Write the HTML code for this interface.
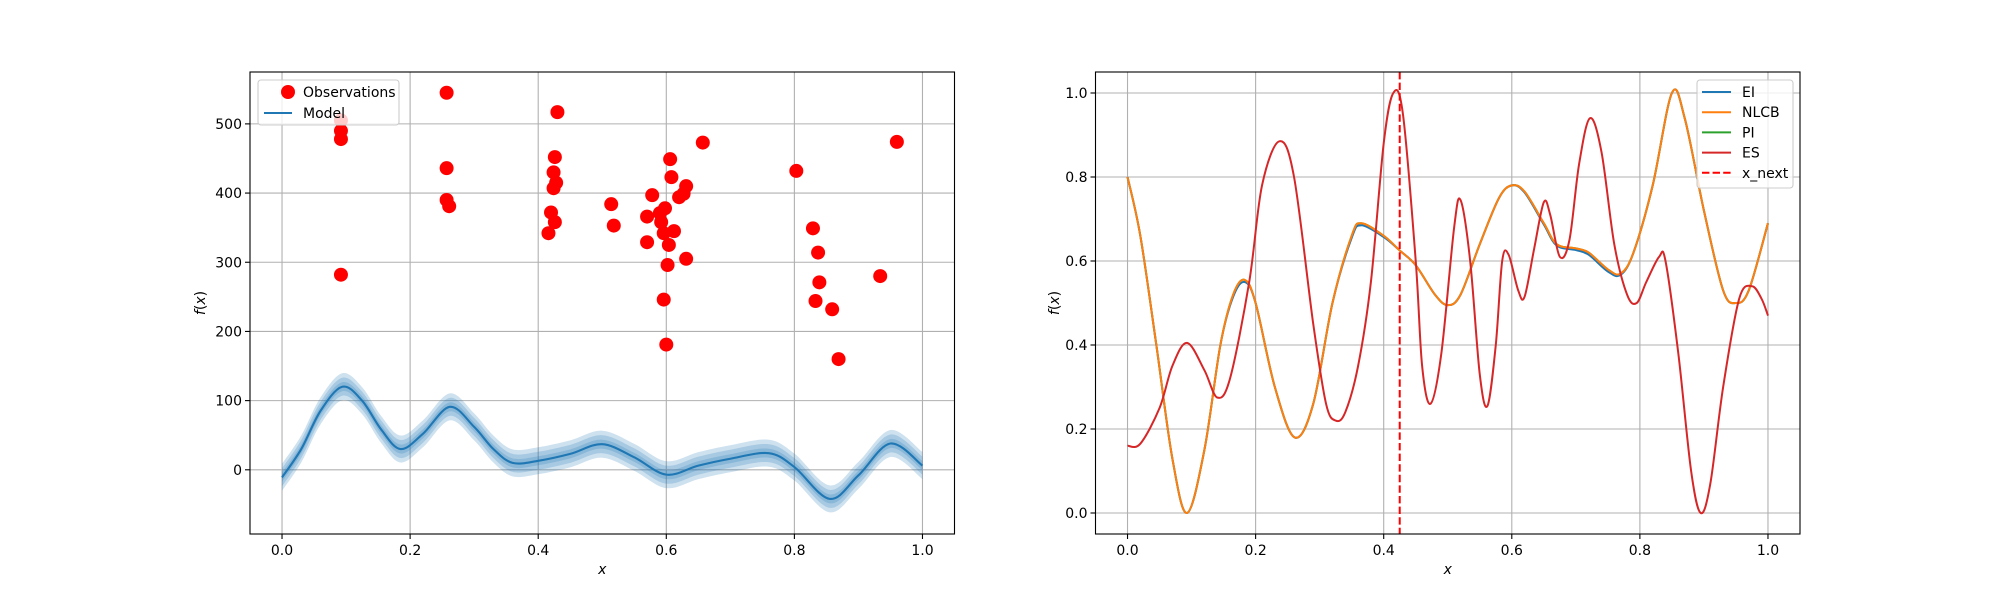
<!DOCTYPE html>
<html><head><meta charset="utf-8"><style>
html,body{margin:0;padding:0;background:#fff;}
svg{display:block;font-family:"DejaVu Sans","Liberation Sans",sans-serif;}
</style></head><body>
<svg id="fig" width="2000" height="600" viewBox="0 0 2000 600" xmlns="http://www.w3.org/2000/svg">
<rect width="2000" height="600" fill="#fff"/>
<g id="left"></g>
<g id="right"></g>
</svg>
<script>
// ---- Left chart data ----
const obsX = [0.092,0.092,0.092,0.092,0.257,0.257,0.257,0.261,0.430,0.426,0.424,0.428,0.424,0.420,0.426,0.416,0.514,0.518,0.578,0.570,0.570,0.590,0.598,0.592,0.596,0.612,0.604,0.602,0.596,0.600,0.606,0.608,0.620,0.627,0.631,0.631,0.657,0.803,0.829,0.837,0.839,0.833,0.859,0.869,0.934,0.960];
const obsY = [505,490,478,282,545,436,390,381,517,452,430,415,407,372,358,342,384,353,397,366,329,371,378,358,342,345,325,296,246,181,449,423,394,399,410,305,473,432,349,314,271,244,232,160,280,474];
const modelX = [0,0.03,0.06,0.094,0.125,0.155,0.185,0.22,0.262,0.3,0.33,0.36,0.4,0.45,0.5,0.55,0.6,0.65,0.7,0.76,0.8,0.855,0.9,0.95,1.0];
const modelMean = [-11,30,85,120,100,58,30,52,91,62,30,10,13,23,37,18,-7,6,16,24,4,-42,-8,38,6];
const modelStd = [6.5,6.5,6.5,6.5,6.5,6.5,6.5,6.5,6.5,6.5,6.5,6.5,6.5,6.5,6.5,6.5,6.5,6.5,6.5,6.5,6.5,6.5,6.5,6.5,6.5];
const leftYTicks = [0,100,200,300,400,500];
const xTicks = [0,0.2,0.4,0.6,0.8,1.0];
// ---- Right chart data ----
const acqX = [0,0.02,0.045,0.07,0.093,0.12,0.145,0.165,0.183,0.2,0.23,0.261,0.29,0.32,0.35,0.365,0.4,0.425,0.45,0.48,0.5,0.52,0.55,0.58,0.6,0.62,0.65,0.67,0.7,0.72,0.75,0.77,0.79,0.82,0.85,0.87,0.9,0.93,0.95,0.97,1.0];
const nlcb = [0.8,0.66,0.4,0.13,0.0,0.15,0.4,0.52,0.555,0.5,0.3,0.18,0.26,0.5,0.66,0.69,0.66,0.625,0.59,0.52,0.495,0.52,0.64,0.75,0.78,0.765,0.69,0.64,0.63,0.62,0.58,0.57,0.62,0.78,1.0,0.94,0.72,0.53,0.5,0.53,0.69];
const ei = [0.8,0.66,0.4,0.13,0.0,0.15,0.4,0.515,0.55,0.5,0.3,0.18,0.26,0.5,0.655,0.685,0.657,0.625,0.59,0.52,0.495,0.52,0.64,0.75,0.78,0.763,0.687,0.637,0.626,0.615,0.575,0.567,0.62,0.78,1.0,0.94,0.72,0.53,0.5,0.53,0.69];
const pi = nlcb.slice();
const esX = [0,0.02,0.05,0.07,0.093,0.12,0.14,0.16,0.19,0.21,0.237,0.26,0.29,0.31,0.325,0.34,0.36,0.38,0.4,0.415,0.43,0.45,0.46,0.473,0.49,0.51,0.52,0.535,0.55,0.562,0.575,0.585,0.595,0.61,0.62,0.635,0.65,0.66,0.675,0.69,0.705,0.722,0.74,0.76,0.78,0.795,0.81,0.83,0.84,0.86,0.88,0.895,0.91,0.93,0.955,0.975,0.99,1.0];
const es = [0.16,0.165,0.25,0.35,0.405,0.34,0.275,0.32,0.55,0.78,0.885,0.8,0.45,0.26,0.22,0.24,0.35,0.55,0.88,1.0,0.95,0.6,0.35,0.26,0.38,0.68,0.745,0.6,0.33,0.255,0.4,0.6,0.615,0.53,0.515,0.63,0.74,0.71,0.61,0.65,0.83,0.94,0.86,0.64,0.52,0.5,0.55,0.61,0.6,0.38,0.1,0.0,0.07,0.3,0.51,0.54,0.51,0.47];
const xNext = 0.425;
const rightYTicks = [0.0,0.2,0.4,0.6,0.8,1.0];

const NS='http://www.w3.org/2000/svg';
function mk(tag,attrs,parent){const e=document.createElementNS(NS,tag);for(const k in attrs)e.setAttribute(k,attrs[k]);parent.appendChild(e);return e;}
function segs(pts){
  let d='';
  for(let i=0;i<pts.length-1;i++){
    const p0=pts[Math.max(0,i-1)],p1=pts[i],p2=pts[i+1],p3=pts[Math.min(pts.length-1,i+2)];
    const c1=[p1[0]+(p2[0]-p0[0])/6,p1[1]+(p2[1]-p0[1])/6];
    const c2=[p2[0]-(p3[0]-p1[0])/6,p2[1]-(p3[1]-p1[1])/6];
    d+=' C'+c1[0].toFixed(2)+','+c1[1].toFixed(2)+' '+c2[0].toFixed(2)+','+c2[1].toFixed(2)+' '+p2[0].toFixed(2)+','+p2[1].toFixed(2);
  }
  return d;
}
function spline(pts){return 'M'+pts[0][0].toFixed(2)+','+pts[0][1].toFixed(2)+segs(pts);}
function axes(g,L,R,yMin,yMax,yTicks,fmt,name){
  const T=72,B=534;
  const sx=v=>L+(v+0.05)/1.1*(R-L);
  const sy=v=>B-(v-yMin)/(yMax-yMin)*(B-T);
  const grid=mk('g',{},g);
  
  
  xTicks.forEach(t=>{
    const x=sx(t);
    mk('line',{x1:x,x2:x,y1:T,y2:B,stroke:'#b0b0b0','stroke-width':1.1},grid);
    mk('line',{x1:x,x2:x,y1:B,y2:B+5,stroke:'#000','stroke-width':1.1},g);
    const tx=mk('text',{x:x,y:B+21,'font-size':14,'text-anchor':'middle',fill:'#000'},g);
    tx.textContent=t.toFixed(1);
    
    
  });
  yTicks.forEach(t=>{
    const y=sy(t);
    mk('line',{x1:L,x2:R,y1:y,y2:y,stroke:'#b0b0b0','stroke-width':1.1},grid);
    mk('line',{x1:L-5,x2:L,y1:y,y2:y,stroke:'#000','stroke-width':1.1},g);
    const tx=mk('text',{x:L-8,y:y+5,'font-size':14,'text-anchor':'end',fill:'#000'},g);
    tx.textContent=fmt(t);
    
    
  });
  const xl=mk('text',{x:(L+R)/2,y:B+40,'font-size':14,'text-anchor':'middle','font-style':'italic'},g);
  xl.textContent='x';
  
  
  const yl=mk('text',{x:0,y:0,'font-size':14,'text-anchor':'middle',transform:`translate(${name==='left'?205:1059},${(T+B)/2}) rotate(-90)`},g);
  yl.innerHTML='<tspan font-style="italic">f</tspan>(<tspan font-style="italic">x</tspan>)';
  
  
  return {sx,sy,T,B};
}
function frame(g,L,R){
  const f=mk('rect',{x:L,y:72,width:R-L,height:462,fill:'none',stroke:'#000','stroke-width':1.1},g);
  
  
}
// ---- Left ----
(function(){
  const g=document.getElementById('left');
  const L=250,R=954.5;
  const a=axes(g,L,R,-92.8,575,leftYTicks,t=>String(t),'left');
  const clip=mk('clipPath',{id:'cl'},g);mk('rect',{x:L,y:72,width:R-L,height:462},clip);
  const cg=mk('g',{'clip-path':'url(#cl)'},g);
  [3,2,1].forEach(k=>{
    const up=modelX.map((x,i)=>[a.sx(x),a.sy(modelMean[i]+k*modelStd[i])]);
    const lo=modelX.map((x,i)=>[a.sx(x),a.sy(modelMean[i]-k*modelStd[i])]).reverse();
    const d=spline(up)+' L'+lo[0][0].toFixed(2)+','+lo[0][1].toFixed(2)+segs(lo)+' Z';
    const p=mk('path',{d:d,fill:'#1f77b4','fill-opacity':0.22,stroke:'none'},cg);
    
    
  });
  const m=mk('path',{d:spline(modelX.map((x,i)=>[a.sx(x),a.sy(modelMean[i])])),fill:'none',stroke:'#1f77b4','stroke-width':2.1},cg);
  
  
  obsX.forEach((x,i)=>{
    const c=mk('circle',{cx:a.sx(x),cy:a.sy(obsY[i]),r:7,fill:'#ff0000'},cg);
    
    
  });
  frame(g,L,R);
  const lg=mk('g',{},g);
  
  
  mk('rect',{x:258,y:80,width:141,height:45,rx:3,fill:'#fff','fill-opacity':0.8,stroke:'#cccccc','stroke-width':1.1},lg);
  mk('circle',{cx:288,cy:92,r:7,fill:'#ff0000'},lg);
  const t1=mk('text',{x:303,y:97,'font-size':14},lg);t1.textContent='Observations';
  mk('line',{x1:264,x2:292,y1:113,y2:113,stroke:'#1f77b4','stroke-width':2.1},lg);
  const t2=mk('text',{x:303,y:118,'font-size':14},lg);t2.textContent='Model';
})();
// ---- Right ----
(function(){
  const g=document.getElementById('right');
  const L=1095.5,R=1800;
  const a=axes(g,L,R,-0.05,1.05,rightYTicks,t=>t.toFixed(1),'right');
  const clip=mk('clipPath',{id:'cr'},g);mk('rect',{x:L,y:72,width:R-L,height:462},clip);
  const cg=mk('g',{'clip-path':'url(#cr)'},g);
  const series=[['pi-line',acqX,pi,'#2ca02c'],['ei-line',acqX,ei,'#1f77b4'],['nlcb-line',acqX,nlcb,'#ff7f0e'],['es-line',esX,es,'#d62728']];
  series.forEach(s=>{
    const p=mk('path',{d:spline(s[1].map((x,i)=>[a.sx(x),a.sy(s[2][i])])),fill:'none',stroke:s[3],'stroke-width':2},cg);
    
    
  });
  const xn=mk('line',{x1:a.sx(xNext),x2:a.sx(xNext),y1:72,y2:534,stroke:'#ff0000','stroke-width':2,'stroke-dasharray':'7.4,3.2'},cg);
  
  
  frame(g,L,R);
  const lg=mk('g',{},g);
  
  
  mk('rect',{x:1697,y:80,width:96,height:108,rx:3,fill:'#fff','fill-opacity':0.8,stroke:'#cccccc','stroke-width':1.1},lg);
  [['EI','#1f77b4',0],['NLCB','#ff7f0e',0],['PI','#2ca02c',0],['ES','#d62728',0],['x_next','#ff0000',1]].forEach((e,i)=>{
    const y=92+i*20.2;
    const ln=mk('line',{x1:1702,x2:1731,y1:y,y2:y,stroke:e[1],'stroke-width':2},lg);
    if(e[2])ln.setAttribute('stroke-dasharray','7.4,3.2');
    const t=mk('text',{x:1742,y:y+5,'font-size':14},lg);t.textContent=e[0];
  });
})();
</script>
</body></html>
